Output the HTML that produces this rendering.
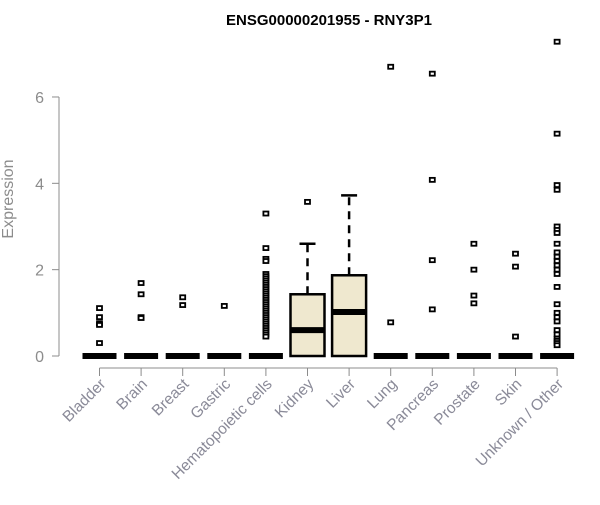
<!DOCTYPE html>
<html><head><meta charset="utf-8"><style>
body{margin:0;background:#fff;}
svg text{font-family:"Liberation Sans",Arial,sans-serif;}
</style></head><body>
<svg id="chart" width="600" height="500" xmlns="http://www.w3.org/2000/svg">
<text x="329" y="25" text-anchor="middle" font-size="15" font-weight="bold">ENSG00000201955 - RNY3P1</text>
<g id="yaxis"></g>
<g id="xaxis"></g>
<g id="marks"></g>
<text transform="translate(13,199) rotate(-90)" text-anchor="middle" font-size="16" fill="#8c8c8c">Expression</text>
</svg>
<script>
const categories=["Bladder","Brain","Breast","Gastric","Hematopoietic cells","Kidney","Liver","Lung","Pancreas","Prostate","Skin","Unknown / Other"];
const q1=[0,0,0,0,0,0,0,0,0,0,0,0];
const median=[0,0,0,0,0,0.6,1.02,0,0,0,0,0];
const q3=[0,0,0,0,0,1.43,1.87,0,0,0,0,0];
const whiskerHigh=[0,0,0,0,0,2.6,3.72,0,0,0,0,0];
const outliers=[
 [1.11,0.9,0.76,0.72,0.3],
 [1.69,1.43,0.9,0.88],
 [1.36,1.18],
 [1.16],
 [3.3,2.5,2.25,2.2,1.9,1.85,1.8,1.75,1.7,1.65,1.6,1.55,1.5,1.45,1.4,1.35,1.3,1.25,1.2,1.15,1.1,1.05,1.0,0.95,0.9,0.85,0.8,0.75,0.7,0.65,0.6,0.55,0.5,0.45],
 [3.57],
 [],
 [6.7,0.78],
 [6.54,4.08,2.22,1.08],
 [2.6,2.0,1.4,1.22],
 [2.37,2.07,0.45],
 [7.28,5.15,3.96,3.85,3.0,2.92,2.85,2.6,2.4,2.3,2.2,2.1,2.0,1.9,1.6,1.2,1.0,0.9,0.8,0.6,0.5,0.4,0.35,0.3,0.25]
];
const yTicks=[0,2,4,6];
const NS="http://www.w3.org/2000/svg";
function y(v){return 356-v*43.17;}
function x(i){return 99.5+i*41.6;}
function mk(tag,attrs,parent){const e=document.createElementNS(NS,tag);for(const k in attrs)e.setAttribute(k,attrs[k]);parent.appendChild(e);return e;}
const ya=document.getElementById('yaxis'),xa=document.getElementById('xaxis'),m=document.getElementById('marks');
mk('line',{x1:59,x2:59,y1:y(6),y2:y(0),stroke:'#8c8c8c'},ya);
yTicks.forEach(t=>{
 const l=mk('line',{x1:52,x2:59,y1:y(t),y2:y(t),stroke:'#8c8c8c'},ya);
 
 
 const tx=mk('text',{x:44,y:y(t)+6,'text-anchor':'end','font-size':16,fill:'#8c8c8c'},ya);
 tx.textContent=t;
 
 
});
mk('line',{x1:x(0),x2:x(categories.length-1),y1:368,y2:368,stroke:'#8c8c8c'},xa);
categories.forEach((c,i)=>{
 const l=mk('line',{x1:x(i),x2:x(i),y1:368,y2:376,stroke:'#8c8c8c'},xa);
 
 
 const tx=mk('text',{x:0,y:0,'text-anchor':'end','font-size':15.5,fill:'#8a8a98',transform:`translate(${x(i)+7},${385}) rotate(-45)`},xa);
 tx.textContent=c;
 
 
});
const hw=17;
categories.forEach((c,i)=>{
 const g=mk('g',{},m);
 
 
 const cx=x(i);
 if(q3[i]>q1[i]){
  mk('line',{x1:cx,x2:cx,y1:y(q3[i]),y2:y(whiskerHigh[i]),stroke:'#000','stroke-width':2.5,'stroke-dasharray':'8,6'},g);
  mk('line',{x1:cx-8,x2:cx+8,y1:y(whiskerHigh[i]),y2:y(whiskerHigh[i]),stroke:'#000','stroke-width':2.5},g);
  mk('rect',{x:cx-hw,y:y(q3[i]),width:2*hw,height:y(q1[i])-y(q3[i]),fill:'#efe8cf',stroke:'#000','stroke-width':2.5},g);
 }
 mk('line',{x1:cx-hw,x2:cx+hw,y1:y(median[i]),y2:y(median[i]),stroke:'#000','stroke-width':6},g);
 outliers[i].forEach(v=>{
  const r=mk('rect',{x:cx-2.5,y:y(v)-2,width:5,height:4,fill:'#fff',stroke:'#000','stroke-width':1.8},g);
  
  
 });
});
</script>
</body></html>
